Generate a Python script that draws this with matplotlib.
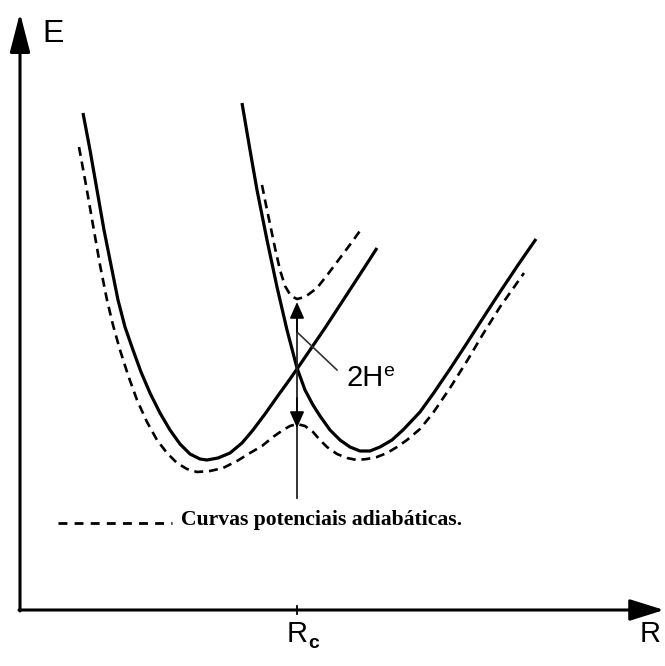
import matplotlib
matplotlib.use('Agg')
import matplotlib.pyplot as plt

# values, R and E in arbitrary units (origin at axis corner)
r_diab_a = [63, 70, 77, 84, 91, 98, 105, 113, 121, 130, 140, 150, 160, 170, 180, 187, 198,
            210, 222, 233, 245, 257, 270, 277, 290, 305, 320, 335, 348, 357]
e_diab_a = [497, 460, 420, 380, 345, 310, 283, 260, 238, 217, 197, 180, 166, 156, 151, 150, 152,
            157, 167, 180, 196, 213, 231, 241, 260, 282, 305, 328, 348, 362]

r_diab_b = [222, 230, 237, 247, 257, 267, 277, 285, 293, 300, 310, 320, 330, 340, 350, 360, 372,
            383, 400, 413, 430, 447, 463, 480, 498, 516]
e_diab_b = [507, 460, 420, 370, 323, 280, 242, 220, 205, 194, 180, 170, 163, 159, 159, 163, 170,
            180, 198, 216, 241, 267, 292, 318, 345, 371]

r_adiab_up = [242, 246, 250, 255, 260, 265, 271, 277, 285, 297, 308, 320, 332, 342]
e_adiab_up = [425, 405, 386, 362, 340, 324, 314, 311, 313, 322, 336, 352, 368, 382]

r_adiab_low = [59, 66, 73, 80, 87, 93, 100, 108, 117, 127, 137, 147, 157, 167, 177, 190, 203,
               217, 230, 242, 253, 263, 270, 277, 285, 293, 300, 307, 317, 327, 337, 347, 357,
               367, 377, 387, 400, 413, 430, 447, 463, 480, 492, 504]
e_adiab_low = [463, 425, 385, 345, 310, 285, 260, 235, 210, 188, 170, 157, 147, 141, 138, 139, 142,
               149, 157, 164, 173, 180, 184, 186, 184, 178, 170, 163, 156, 152, 150, 151, 153,
               157, 163, 170, 181, 197, 222, 249, 276, 303, 320, 337]

r_c = 277
gap_top = 308      # upper adiabatic curve at Rc
gap_bottom = 182   # lower adiabatic curve at Rc
legend_text = 'Curvas potenciais adiabáticas.'

fig = plt.figure(figsize=(6.65, 6.66), dpi=100)
ax = fig.add_axes([0, 0, 1, 1])
ax.set_xlim(-20, 645)
ax.set_ylim(-56, 610)
ax.axis('off')

sans = 'Liberation Sans'

# axes with arrows
ax.annotate('', xy=(0, 597), xytext=(0, -1),
            arrowprops=dict(arrowstyle='-|>,head_length=2.4,head_width=0.62', mutation_scale=10,
                            lw=2.2, color='black', shrinkA=0, shrinkB=0))
ax.annotate('', xy=(644, 0), xytext=(-1, 0),
            arrowprops=dict(arrowstyle='-|>,head_length=2.1,head_width=0.66', mutation_scale=10,
                            lw=2.2, color='black', shrinkA=0, shrinkB=0))
ax.plot([r_c, r_c], [-4, 4], color='black', lw=1.3)

# curves
ax.plot(r_diab_a, e_diab_a, color='black', lw=2.3, solid_capstyle='butt', solid_joinstyle='round')
ax.plot(r_diab_b, e_diab_b, color='black', lw=2.3, solid_capstyle='butt', solid_joinstyle='round')
ax.plot(r_adiab_up, e_adiab_up, color='black', lw=1.9, dashes=(3.4, 2.2))
ax.plot(r_adiab_low, e_adiab_low, color='black', lw=1.9, dashes=(3.4, 2.2))

# vertical arrow at Rc
ax.plot([r_c, r_c], [112, gap_top - 10], color='#222222', lw=1.3)
ax.annotate('', xy=(r_c, gap_top), xytext=(r_c, gap_top - 30),
            arrowprops=dict(arrowstyle='-|>,head_length=0.5,head_width=0.22', mutation_scale=20,
                            lw=1.2, color='black', shrinkA=0, shrinkB=0))
ax.annotate('', xy=(r_c, gap_bottom), xytext=(r_c, gap_bottom + 30),
            arrowprops=dict(arrowstyle='-|>,head_length=0.5,head_width=0.22', mutation_scale=20,
                            lw=1.2, color='black', shrinkA=0, shrinkB=0))
ax.plot([r_c + 1, 317], [277, 240], color='#333333', lw=1.2)

ax.text(327, 232, '2H', fontsize=21, family=sans, va='center', ha='left')
ax.text(363, 238, 'e', fontsize=14, family=sans, va='center', ha='left')

# axis labels
ax.text(22, 576, 'E', fontsize=23, family=sans, va='center', ha='left')
ax.text(620, -24, 'R', fontsize=21, family=sans, va='center', ha='left')
ax.text(267, -24, 'R', fontsize=21, family=sans, va='center', ha='left')
ax.text(288, -33, 'c', fontsize=14, family=sans, va='center', ha='left', fontweight='bold')

# legend
ax.plot([38, 152], [87, 87], color='black', lw=2.0, dashes=(3.2, 2.6))
ax.text(161, 90, legend_text, fontsize=15.6, family='Liberation Serif', fontweight='bold',
        va='center', ha='left')

fig.savefig('out.png', dpi=100)
